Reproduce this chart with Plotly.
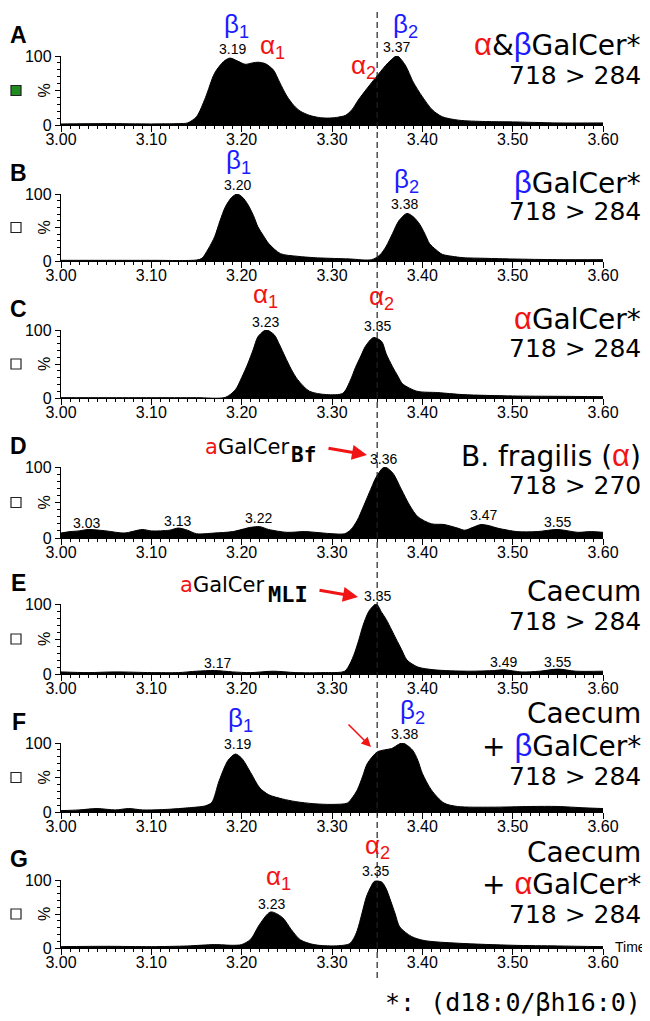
import plotly.graph_objects as go

# The page body has an 8 px margin, so the figure is drawn 8 px smaller and all
# reference-pixel positions are shifted by that offset.
OFF = 8
W, H = 650 - OFF, 1021 - OFF

# ---------------- data (retention time in min, relative intensity %) ----------------
time_A = [3.00, 3.05, 3.10, 3.13, 3.14, 3.15, 3.16, 3.17, 3.18, 3.187, 3.195, 3.204, 3.212, 3.218, 3.226,
          3.235, 3.242, 3.25, 3.258, 3.265, 3.275, 3.285, 3.295, 3.305, 3.315, 3.322, 3.329, 3.34, 3.351,
          3.362, 3.372, 3.381, 3.39, 3.40, 3.411, 3.422, 3.44, 3.47, 3.50, 3.55, 3.60]
pct_A = [1.5, 2, 1.5, 2, 3, 12, 40, 75, 92, 97, 93, 88, 90, 91, 89, 80, 62, 42, 28, 20, 14, 11, 10, 11, 14,
         22, 36, 55, 73, 90, 100, 87, 62, 41, 22, 12, 7, 5, 4.5, 3, 3]

time_B = [3.00, 3.05, 3.10, 3.15, 3.156, 3.163, 3.17, 3.176, 3.182, 3.189, 3.195, 3.201, 3.207, 3.213, 3.218,
          3.224, 3.23, 3.243, 3.262, 3.28, 3.298, 3.32, 3.344, 3.353, 3.36, 3.367, 3.374, 3.383, 3.39, 3.397,
          3.403, 3.408, 3.415, 3.422, 3.433, 3.445, 3.47, 3.50, 3.55, 3.60]
pct_B = [1, 1, 1, 1.5, 4, 18, 36, 60, 81, 95, 100, 95, 84, 68, 51, 38, 26, 11, 7, 5, 4, 3, 2, 9, 22, 41, 60,
         71, 66, 55, 40, 26, 17, 10, 7, 5, 4, 3, 2, 2]

time_C = [3.00, 3.05, 3.10, 3.15, 3.182, 3.193, 3.20, 3.207, 3.213, 3.218, 3.227, 3.236, 3.242, 3.248, 3.255,
          3.262, 3.275, 3.294, 3.312, 3.32, 3.326, 3.332, 3.337, 3.346, 3.355, 3.36, 3.367, 3.373, 3.378,
          3.394, 3.417, 3.445, 3.50, 3.55, 3.60]
pct_C = [0.5, 0.5, 0.5, 0.5, 1, 12, 30, 51, 72, 90, 100, 93, 78, 61, 42, 27, 10, 5, 7, 25, 45, 62, 76, 89,
         83, 65, 46, 32, 21, 10, 8, 5, 3, 2.5, 2]

time_D = [3.00, 3.01, 3.02, 3.03, 3.05, 3.07, 3.09, 3.10, 3.12, 3.13, 3.14, 3.15, 3.17, 3.19, 3.21, 3.22,
          3.23, 3.25, 3.27, 3.29, 3.30, 3.314, 3.321, 3.328, 3.334, 3.339, 3.344, 3.349, 3.358, 3.367, 3.377,
          3.386, 3.395, 3.41, 3.424, 3.439, 3.447, 3.456, 3.465, 3.475, 3.483, 3.505, 3.527, 3.55, 3.572,
          3.587, 3.60]
pct_D = [7, 9, 10, 12, 10, 7, 12, 10, 11, 14, 11, 6, 7, 9, 15, 16, 12, 8, 9, 7, 6, 6, 12, 25, 42, 57, 72, 86,
         100, 92, 68, 46, 30, 20, 19, 14, 11, 15, 19, 17, 14, 9, 9, 12, 8, 9, 8]

time_E = [3.00, 3.03, 3.06, 3.10, 3.13, 3.15, 3.17, 3.19, 3.21, 3.235, 3.26, 3.29, 3.314, 3.32, 3.325, 3.33,
          3.334, 3.341, 3.349, 3.355, 3.36, 3.366, 3.371, 3.377, 3.383, 3.395, 3.413, 3.45, 3.48, 3.49, 3.51,
          3.53, 3.55, 3.57, 3.60]
pct_E = [3, 2, 3, 2, 2, 4, 5, 3, 2, 4, 2, 2, 4, 15, 30, 50, 68, 90, 100, 88, 78, 63, 50, 35, 20, 10, 6, 4, 5,
         6, 3, 4, 7, 4, 4]

time_F = [3.00, 3.02, 3.04, 3.06, 3.075, 3.09, 3.10, 3.12, 3.14, 3.16, 3.167, 3.175, 3.185, 3.193, 3.20,
          3.21, 3.22, 3.23, 3.245, 3.26, 3.28, 3.30, 3.317, 3.322, 3.328, 3.334, 3.339, 3.35, 3.358, 3.366,
          3.378, 3.389, 3.395, 3.40, 3.41, 3.424, 3.439, 3.476, 3.52, 3.55, 3.58, 3.60]
pct_F = [2, 3, 5, 3, 5, 3, 3, 4, 6, 9, 14, 45, 75, 84, 78, 57, 35, 25, 19, 15, 12, 11, 13, 20, 32, 52, 70,
         87, 90, 92, 100, 90, 75, 56, 32, 13, 8, 7, 8, 8, 6, 5]

time_G = [3.00, 3.05, 3.10, 3.14, 3.17, 3.19, 3.20, 3.21, 3.22, 3.232, 3.245, 3.255, 3.265, 3.28, 3.30,
          3.319, 3.324, 3.328, 3.333, 3.338, 3.343, 3.347, 3.355, 3.36, 3.364, 3.37, 3.375, 3.388, 3.402,
          3.44, 3.50, 3.55, 3.60]
pct_G = [2, 2.5, 2, 3, 5, 4, 5, 13, 35, 53, 45, 27, 12, 5, 3, 6, 14, 26, 50, 75, 90, 98, 97, 87, 73, 50, 31,
         17, 11, 7, 4, 3, 2]

panel_letters = ["A", "B", "C", "D", "E", "F", "G"]
x_tick_values = [3.00, 3.10, 3.20, 3.30, 3.40, 3.50, 3.60]
x_tick_labels = ["3.00", "3.10", "3.20", "3.30", "3.40", "3.50", "3.60"]
y_tick_values = [0, 50, 100]
y_tick_labels = ["0", "", "100"]
reference_time = 3.35

series = [(time_A, pct_A), (time_B, pct_B), (time_C, pct_C), (time_D, pct_D),
          (time_E, pct_E), (time_F, pct_F), (time_G, pct_G)]

# ---------------- layout geometry (reference pixels) ----------------
RED = "#f01414"
BLUE = "#1c1cff"
X_LEFT, X_RIGHT = 61, 603
panel_px = [(56, 125), (194, 261), (330, 398), (467, 538), (604, 674), (743, 812), (880, 948)]  # (top, bottom)


def px(x):
    return (x - OFF) / W


def py(y):
    return 1 - (y - OFF) / H


fig = go.Figure()
layout = dict(width=W, height=H, autosize=False,
              margin=dict(l=0, r=0, t=0, b=0, pad=0, autoexpand=False),
              paper_bgcolor="white", plot_bgcolor="white", showlegend=False)

tick_font = dict(family="Liberation Sans, Arial", size=16, color="black")

for i, ((t, p), (top, bot)) in enumerate(zip(series, panel_px)):
    n = "" if i == 0 else str(i + 1)
    fig.add_trace(go.Scatter(x=t, y=p, mode="lines", fill="tozeroy", fillcolor="black",
                             line=dict(color="black", width=1, shape="spline", smoothing=0.8),
                             xaxis="x" + n, yaxis="y" + n, hoverinfo="skip"))
    layout["xaxis" + n] = dict(domain=[px(X_LEFT), px(X_RIGHT)], anchor="y" + n, range=[3.0, 3.6],
                               automargin=False,
                               showgrid=False, zeroline=False, showline=True, linecolor="black", linewidth=1.3,
                               ticks="outside", ticklen=6, tickwidth=1.2, tickcolor="black",
                               ticklabelstandoff=-6,
                               tickvals=x_tick_values, ticktext=x_tick_labels, tickfont=tick_font,
                               minor=dict(dtick=0.01, tick0=3.0, ticks="outside", ticklen=3,
                                          tickwidth=1, tickcolor="black", showgrid=False))
    layout["yaxis" + n] = dict(domain=[py(bot), py(top)], anchor="x" + n, range=[0, 100],
                               automargin=False,
                               showgrid=False, zeroline=False, showline=True, linecolor="black", linewidth=1.3,
                               ticks="outside", ticklen=5, tickwidth=1.2, tickcolor="black",
                               tickvals=y_tick_values, ticktext=y_tick_labels, tickfont=tick_font,
                               minor=dict(dtick=10, tick0=0, ticks="outside", ticklen=3,
                                          tickwidth=1, tickcolor="black", showgrid=False))

annotations = []
shapes = []


def txt(x, y, text, size=14, color="black", family="Liberation Sans, Arial", xanchor="center",
        yanchor="middle", angle=0):
    annotations.append(dict(x=px(x), y=py(y), xref="paper", yref="paper", text=text, showarrow=False,
                            font=dict(size=size, color=color, family=family), xanchor=xanchor,
                            yanchor=yanchor, textangle=angle))


def arrow(x_tip, y_tip, x_tail, y_tail, width=3, head=2, size=1.0):
    annotations.append(dict(x=px(x_tip), y=py(y_tip), xref="paper", yref="paper", text="",
                            showarrow=True, ax=x_tail - x_tip, ay=y_tail - y_tip, arrowcolor=RED,
                            arrowwidth=width, arrowhead=head, arrowsize=size))


# panel letters, % labels, little squares
for i, (top, bot) in enumerate(panel_px):
    mid = (top + bot) / 2
    txt(19, top - 21, "<b>%s</b>" % panel_letters[i], size=23)
    txt(44, mid, "%", size=16, angle=-90)
    shapes.append(dict(type="rect", xref="paper", yref="paper", x0=px(11), x1=px(21),
                       y0=py(mid + 5), y1=py(mid - 5),
                       line=dict(color="#222222", width=1.2),
                       fillcolor="#1e8c1e" if i == 0 else "white"))

# dashed reference line at 3.35 min through all panels
shapes.append(dict(type="line", xref="x", yref="paper", x0=reference_time, x1=reference_time,
                   y0=py(978), y1=py(12), line=dict(color="#222222", width=1.2, dash="6px,4px")))

GF = "DejaVu Sans"
R = 643
NS = 28   # compound / sample names
MS = 25   # transitions


def red(s, fs=31, fam="Liberation Sans"):
    return "<span style='color:%s;font-size:%dpx;font-family:%s'>%s</span>" % (RED, fs, fam, s)


def blue(s, fs=31, fam="Liberation Sans"):
    return "<span style='color:%s;font-size:%dpx;font-family:%s'>%s</span>" % (BLUE, fs, fam, s)


# right-side descriptions
txt(R, 45, red("α") + "&amp;" + blue("β") + "GalCer*", size=NS, family=GF, xanchor="right")
txt(R, 75, "718 &gt; 284", size=MS, family=GF, xanchor="right")
txt(R, 182, blue("β") + "GalCer*", size=NS, family=GF, xanchor="right")
txt(R, 212, "718 &gt; 284", size=MS, family=GF, xanchor="right")
txt(R, 318, red("α") + "GalCer*", size=NS, family=GF, xanchor="right")
txt(R, 348, "718 &gt; 284", size=MS, family=GF, xanchor="right")
txt(R, 455, "B. fragilis (" + red("α") + ")", size=NS, family=GF, xanchor="right")
txt(R, 485, "718 &gt; 270", size=MS, family=GF, xanchor="right")
txt(R, 591, "Caecum", size=NS, family=GF, xanchor="right")
txt(R, 621, "718 &gt; 284", size=MS, family=GF, xanchor="right")
txt(R, 713, "Caecum", size=NS, family=GF, xanchor="right")
txt(R, 745, "+ " + blue("β") + "GalCer*", size=NS, family=GF, xanchor="right")
txt(R, 776, "718 &gt; 284", size=MS, family=GF, xanchor="right")
txt(R, 852, "Caecum", size=NS, family=GF, xanchor="right")
txt(R, 883, "+ " + red("α") + "GalCer*", size=NS, family=GF, xanchor="right")
txt(R, 914, "718 &gt; 284", size=MS, family=GF, xanchor="right")

# peak identity labels
GS = 26
txt(236, 25, "β<sub>1</sub>", size=GS, color=BLUE)
txt(272, 47, "α<sub>1</sub>", size=GS, color=RED)
txt(364, 66, "α<sub>2</sub>", size=GS, color=RED)
txt(405, 25, "β<sub>2</sub>", size=GS, color=BLUE)
txt(238, 162, "β<sub>1</sub>", size=GS, color=BLUE)
txt(406, 181, "β<sub>2</sub>", size=GS, color=BLUE)
txt(265, 295, "α<sub>1</sub>", size=GS, color=RED)
txt(381, 297, "α<sub>2</sub>", size=GS, color=RED)
txt(240, 719, "β<sub>1</sub>", size=GS, color=BLUE)
txt(412, 711, "β<sub>2</sub>", size=GS, color=BLUE)
txt(278, 877, "α<sub>1</sub>", size=GS, color=RED)
txt(377, 846, "α<sub>2</sub>", size=GS, color=RED)

# retention time labels
RS = 14
txt(232, 49, "3.19", size=RS)
txt(396, 47, "3.37", size=RS)
txt(237, 185, "3.20", size=RS)
txt(404, 204, "3.38", size=RS)
txt(265, 322, "3.23", size=RS)
txt(377, 326, "3.35", size=RS)
txt(383, 459, "3.36", size=RS)
txt(86, 523, "3.03", size=RS)
txt(178, 521, "3.13", size=RS)
txt(258, 518, "3.22", size=RS)
txt(483, 515, "3.47", size=RS)
txt(557, 522, "3.55", size=RS)
txt(377, 596, "3.35", size=RS)
txt(217, 663, "3.17", size=RS)
txt(503, 662, "3.49", size=RS)
txt(557, 662, "3.55", size=RS)
txt(237, 744, "3.19", size=RS)
txt(404, 734, "3.38", size=RS)
txt(271, 904, "3.23", size=RS)
txt(376, 871, "3.35", size=RS)

# compound callouts with arrows
txt(203, 447, red("a", 21, GF) + "GalCer", size=21, family=GF, xanchor="left")
txt(289, 455, "<b>Bf</b>", size=21, family="DejaVu Sans Mono", xanchor="left")
arrow(367, 455, 327, 448)
txt(178, 585, red("a", 21, GF) + "GalCer", size=21, family=GF, xanchor="left")
txt(266, 594, "<b>MLI</b>", size=22, family="DejaVu Sans Mono", xanchor="left")
arrow(358, 597, 318, 590)
arrow(371, 747, 347, 723, width=1.6, head=2, size=1.2)

# axis title and footnote
txt(613, 947, "Time", size=14, xanchor="left")
txt(R, 1002, "*: (d18:0/βh16:0)", size=25, family="DejaVu Sans Mono", xanchor="right")

layout["annotations"] = annotations
layout["shapes"] = shapes
fig.update_layout(**layout)
fig.write_html("out.html")
